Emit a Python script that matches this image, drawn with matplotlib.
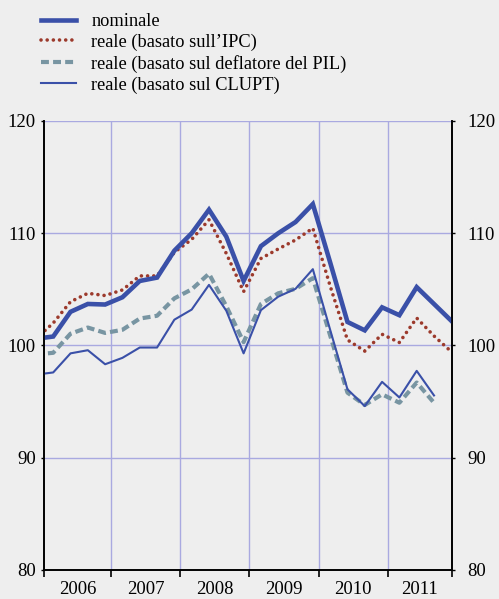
import numpy as np
import matplotlib
matplotlib.use('Agg')
import matplotlib.pyplot as plt
from matplotlib.ticker import FixedLocator, NullFormatter

plt.rcParams['font.family'] = ['Liberation Serif', 'DejaVu Serif']

# trimestri dal 2005 T4 al 2011 T4 (il primo punto cade fuori dal riquadro)
quarters = np.arange(-1, 24)
years = [2006, 2007, 2008, 2009, 2010, 2011]

nominale = [100.6,
            100.8, 103.0, 103.7, 103.65,
            104.3, 105.75, 106.05, 108.45,
            110.0, 112.1, 109.7, 105.75,
            108.85, 110.0, 111.0, 112.6,
            107.4, 102.1, 101.35, 103.4,
            102.7, 105.2, 103.7, 102.2]
ipc = [100.6,
       102.0, 103.9, 104.65, 104.45,
       104.95, 106.2, 106.2, 108.3,
       109.45, 111.2, 108.2, 104.8,
       107.75, 108.6, 109.4, 110.45,
       105.3, 100.5, 99.5, 101.0,
       100.27, 102.45, 100.85, 99.45]
deflatore = [99.2,
             99.35, 101.05, 101.6, 101.12,
             101.4, 102.4, 102.65, 104.2,
             105.0, 106.4, 103.5, 100.3,
             103.7, 104.65, 105.05, 106.0,
             100.9, 95.8, 94.7, 95.65,
             94.9, 96.7, 94.9, np.nan]
clupt = [97.4,
         97.6, 99.3, 99.58, 98.33,
         98.9, 99.82, 99.82, 102.3,
         103.2, 105.4, 103.1, 99.3,
         103.15, 104.35, 105.05, 106.8,
         101.4, 96.1, 94.6, 96.76,
         95.37, 97.74, 95.55, np.nan]

labels = ['nominale', 'reale (basato sull\u2019IPC)',
          'reale (basato sul deflatore del PIL)', 'reale (basato sul CLUPT)']
yticks = [80, 90, 100, 110, 120]

# posizione dei punti sull'asse temporale (anni)
x = 2006 + (quarters + 0.66) / 4.0
x_left, x_right = 2006.032, 2011.925

bg = '#eeeeee'
blue = '#3a50a8'
red = '#9c3a2c'
grey = '#7895a2'
grid_col = '#a9a9e0'

fig = plt.figure(figsize=(4.99, 5.99), dpi=100, facecolor=bg)
ax = fig.add_axes([44 / 499, 1 - 570 / 599, 408 / 499, 449 / 599])
ax.set_facecolor(bg)

l1, = ax.plot(x, nominale, color=blue, lw=3.3, solid_joinstyle='miter', zorder=4)
l2, = ax.plot(x, ipc, color=red, lw=2.6, linestyle=(0, (0.01, 1.7)),
              dash_capstyle='round', zorder=3)
l3, = ax.plot(x, deflatore, color=grey, lw=3.0, linestyle=(0, (1.9, 1.0)), zorder=2)
l4, = ax.plot(x, clupt, color=blue, lw=1.5, zorder=3)

ax.set_xlim(x_left, x_right)
ax.set_ylim(80, 120)

# griglia
for v in yticks[1:]:
    ax.axhline(v, color=grid_col, lw=1.0, zorder=1)
for yr in years[1:]:
    ax.axvline(yr, color=grid_col, lw=1.0, zorder=1)

# asse x: tacche ai confini d'anno, etichette al centro
bounds = [x_left] + years[1:] + [x_right]
ax.xaxis.set_major_locator(FixedLocator(bounds))
ax.xaxis.set_major_formatter(NullFormatter())
centers = [(bounds[i] + bounds[i + 1]) / 2 for i in range(len(years))]
ax.set_xticks(centers, [str(y) for y in years], minor=True)
ax.tick_params(axis='x', which='major', direction='out', length=5, width=1.2, color='black')
ax.tick_params(axis='x', which='minor', length=0, labelsize=13.5, pad=8)

# asse y sinistro e destro
ax.set_yticks(yticks)
ax.tick_params(axis='y', direction='out', length=2, width=1,
               labelsize=13.5, pad=4)
ax2 = ax.twinx()
ax2.set_ylim(80, 120)
ax2.set_yticks(yticks)
ax2.tick_params(axis='y', direction='out', length=2, width=1,
                labelsize=13.5, pad=9)

for a in (ax, ax2):
    for s in ['left', 'right', 'bottom']:
        a.spines[s].set_color('black')
        a.spines[s].set_linewidth(1.2)
    a.spines['top'].set_visible(False)

fig.legend([l1, l2, l3, l4], labels, loc='upper left',
           bbox_to_anchor=(41 / 499, 1 - 13 / 599), frameon=False,
           fontsize=13.2, handlelength=1.9, handletextpad=0.85,
           labelspacing=0.2, borderpad=0, borderaxespad=0)

fig.savefig('out.png', dpi=100, facecolor=bg)
